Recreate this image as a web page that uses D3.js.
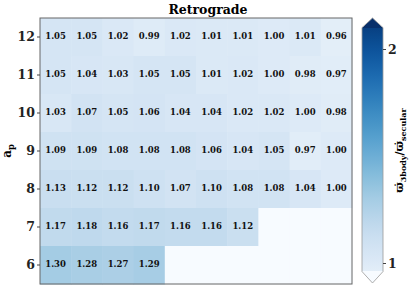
<!DOCTYPE html>
<html>
<head>
<meta charset="utf-8">
<script src="https://cdn.jsdelivr.net/npm/d3@7"></script>
<style>
  body { margin: 0; background: #fff; }
  text { font-family: "DejaVu Serif", serif; font-weight: bold; }
</style>
</head>
<body>
<script>
// rows of a_p, top to bottom
const rows = [12, 11, 10, 9, 8, 7, 6];
const cols = [0, 1, 2, 3, 4, 5, 6, 7, 8, 9];

// ratio values per row (null = no data)
const r12 = [1.05, 1.05, 1.02, 0.99, 1.02, 1.01, 1.01, 1.00, 1.01, 0.96];
const r11 = [1.05, 1.04, 1.03, 1.05, 1.05, 1.01, 1.02, 1.00, 0.98, 0.97];
const r10 = [1.03, 1.07, 1.05, 1.06, 1.04, 1.04, 1.02, 1.02, 1.00, 0.98];
const r9  = [1.09, 1.09, 1.08, 1.08, 1.08, 1.06, 1.04, 1.05, 0.97, 1.00];
const r8  = [1.13, 1.12, 1.12, 1.10, 1.07, 1.10, 1.08, 1.08, 1.04, 1.00];
const r7  = [1.17, 1.18, 1.16, 1.17, 1.16, 1.16, 1.12, null, null, null];
const r6  = [1.30, 1.28, 1.27, 1.29, null, null, null, null, null, null];
const values = [r12, r11, r10, r9, r8, r7, r6];

const cbTicks = [1, 2];
const cbMin = 0.96, cbMax = 2.1;

const width = 416, height = 288;
const margin = { top: 18, right: 64, bottom: 4, left: 40 };

const svg = d3.select("body").append("svg")
  .attr("width", width)
  .attr("height", height);

const cells = [];
values.forEach((row, i) => row.forEach((v, j) => cells.push({ row: rows[i], col: cols[j], v: v })));

const x = d3.scaleBand().domain(cols).range([margin.left, width - margin.right]);
const y = d3.scaleBand().domain(rows).range([margin.top, height - margin.bottom]);
const color = d3.scaleSequential(d3.interpolateBlues).domain([0.82, 2.18]);

svg.selectAll(".cell")
  .data(cells)
  .enter()
  .append("rect")
  .attr("x", d => x(d.col))
  .attr("y", d => y(d.row))
  .attr("width", x.bandwidth() + 0.5)
  .attr("height", y.bandwidth() + 0.5)
  .attr("fill", d => d.v == null ? color(0.82) : color(d.v));

svg.selectAll(".lab")
  .data(cells.filter(d => d.v != null))
  .enter()
  .append("text")
  .attr("x", d => x(d.col) + x.bandwidth() / 2)
  .attr("y", d => y(d.row) + y.bandwidth() / 2 - 1)
  .attr("text-anchor", "middle")
  .attr("dominant-baseline", "central")
  .style("font-size", "8.5px")
  .attr("fill", "#111")
  .text(d => d.v.toFixed(2));

// frame
svg.append("rect")
  .attr("x", margin.left)
  .attr("y", margin.top)
  .attr("width", x.range()[1] - margin.left)
  .attr("height", y.range()[1] - margin.top)
  .attr("fill", "none")
  .attr("stroke", "#666")
  .attr("stroke-width", 1);

// y axis
const yAxis = svg.append("g")
  .attr("transform", `translate(${margin.left},0)`)
  .call(d3.axisLeft(y).tickSize(3).tickPadding(2));
yAxis.select(".domain").remove();
yAxis.selectAll("line").attr("stroke", "#444");
yAxis.selectAll("text")
  .style("font-size", "12.5px")
  .style("font-family", "DejaVu Serif")
  .style("font-weight", "bold")
  .attr("fill", "#222");

// title
svg.append("text")
  .attr("x", 208)
  .attr("y", 14)
  .attr("text-anchor", "middle")
  .style("font-size", "12.5px")
  .text("Retrograde");

// y label
const yl = svg.append("text")
  .attr("transform", `translate(11, ${(margin.top + height - margin.bottom) / 2}) rotate(-90)`)
  .attr("text-anchor", "middle")
  .style("font-size", "12px");
yl.append("tspan").text("a");
yl.append("tspan").attr("dy", 3).style("font-size", "8.5px").text("p");

// colorbar
const cbX0 = 362, cbX1 = 383, cbXm = (cbX0 + cbX1) / 2;
const cbY = d3.scaleLinear().domain([1, 2]).range([263, 49]);
const tipTop = 18, tipBot = 283;

const defs = svg.append("defs");
const grad = defs.append("linearGradient")
  .attr("id", "cbgrad")
  .attr("x1", 0).attr("y1", 1).attr("x2", 0).attr("y2", 0);
d3.range(0, 1.0001, 0.05).forEach(t => {
  grad.append("stop")
    .attr("offset", t)
    .attr("stop-color", color(cbMin + t * (cbMax - cbMin)));
});

svg.append("rect")
  .attr("x", cbX0)
  .attr("y", cbY(cbMax))
  .attr("width", cbX1 - cbX0)
  .attr("height", cbY(cbMin) - cbY(cbMax))
  .attr("fill", "url(#cbgrad)");

svg.append("path")
  .attr("d", `M${cbX0},${cbY(cbMax) + 0.5} L${cbXm},${tipTop} L${cbX1},${cbY(cbMax) + 0.5} Z`)
  .attr("fill", color(2.18));
svg.append("path")
  .attr("d", `M${cbX0},${cbY(cbMin) - 0.5} L${cbXm},${tipBot} L${cbX1},${cbY(cbMin) - 0.5} Z`)
  .attr("fill", color(0.82));

svg.append("path")
  .attr("d", `M${cbX0},${cbY(cbMax)} L${cbXm},${tipTop} L${cbX1},${cbY(cbMax)} L${cbX1},${cbY(cbMin)} L${cbXm},${tipBot} L${cbX0},${cbY(cbMin)} Z`)
  .attr("fill", "none")
  .attr("stroke", "#999")
  .attr("stroke-width", 0.8);

const cbAxis = svg.append("g")
  .attr("transform", `translate(${cbX1},0)`)
  .call(d3.axisRight(cbY).tickValues(cbTicks).tickFormat(d3.format("d")).tickSize(3).tickPadding(2));
cbAxis.select(".domain").remove();
cbAxis.selectAll("line").attr("stroke", "#444");
cbAxis.selectAll("text")
  .style("font-size", "12.5px")
  .style("font-family", "DejaVu Serif")
  .style("font-weight", "bold")
  .attr("fill", "#222");

// colorbar label
const cl = svg.append("text")
  .attr("transform", `translate(403, ${(tipTop + tipBot) / 2}) rotate(-90)`)
  .attr("text-anchor", "middle")
  .style("font-size", "11px");
cl.append("tspan").text("\u03D6\u0307");
cl.append("tspan").attr("dy", 2.5).style("font-size", "8px").text("3body");
cl.append("tspan").attr("dy", -2.5).text("/\u03D6\u0307");
cl.append("tspan").attr("dy", 2.5).style("font-size", "8px").text("secular");
</script>
</body>
</html>
